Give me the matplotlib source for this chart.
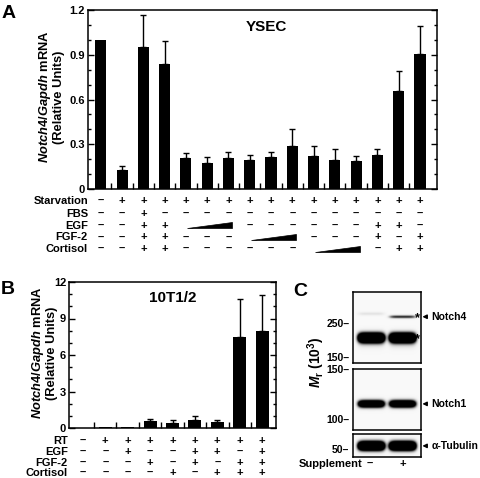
import matplotlib
matplotlib.use('Agg')
import matplotlib.pyplot as plt
import matplotlib.transforms as mtransforms
from matplotlib.patches import Polygon
from matplotlib.ticker import MultipleLocator, FixedLocator, FuncFormatter
import numpy as np

plt.rcParams.update({
    'font.family': ['Liberation Sans', 'DejaVu Sans'],
    'font.weight': 'bold',
    'mathtext.fontset': 'custom',
    'mathtext.rm': 'Liberation Sans:bold',
    'mathtext.it': 'Liberation Sans:italic:bold',
    'mathtext.bf': 'Liberation Sans:bold',
    'axes.linewidth': 1.1,
})

W, H = 480, 478

# ── data: panel A (YSEC) ──────────────────────────────────────────────────────
a_vals = [1.00, 0.13, 0.955, 0.84, 0.205, 0.175, 0.21, 0.195,
          0.215, 0.29, 0.22, 0.195, 0.19, 0.23, 0.655, 0.905]
a_err = [0.0, 0.025, 0.21, 0.15, 0.035, 0.04, 0.035, 0.033,
         0.031, 0.115, 0.065, 0.073, 0.028, 0.037, 0.137, 0.19]
a_rows = ['Starvation', 'FBS', 'EGF', 'FGF-2', 'Cortisol']
a_table = ['-+++++++++++++++',
           '--+-------------',
           '--++rrr------++-',
           '--++---rrr---+-+',
           '--++------rrr-++']

# ── data: panel B (10T1/2) ────────────────────────────────────────────────────
b_vals = [0.02, 0.12, 0.05, 0.55, 0.38, 0.68, 0.46, 7.46, 8.0]
b_err = [0.0, 0.0, 0.0, 0.2, 0.3, 0.28, 0.22, 3.15, 2.9]
b_rows = ['RT', 'EGF', 'FGF-2', 'Cortisol']
b_table = ['-++++++++',
           '--+--++-+',
           '---+-+-++',
           '----+-+++']

# ── data: panel C (western blots) — (lane, kDa, amplitude, log-width) ────────
c_lanes = ['–', '+']
notch4_bands = [(0, 200, 3.0, 0.022), (1, 200, 3.0, 0.022),
                (0, 288, 0.15, 0.008), (1, 275, 0.85, 0.007),
                (0, 178, 0.08, 0.02), (1, 178, 0.1, 0.02)]
notch1_bands = [(0, 113, 2.2, 0.009), (1, 113, 2.2, 0.009)]
tubulin_bands = [(0, 51.3, 3.0, 0.011), (1, 51.3, 3.0, 0.011)]


def px_rect(l, t, r, b):
    return [l / W, 1 - b / H, (r - l) / W, (b - t) / H]


def fy(py):
    return 1 - py / H


fig = plt.figure(figsize=(4.8, 4.78), dpi=100)
fig.patch.set_facecolor('white')


def bar_panel(ax, vals, errs, ymax, major, minor, width, xpad):
    x = np.arange(len(vals))
    ax.bar(x, vals, width=width, color='black', zorder=2)
    idx = [i for i, e in enumerate(errs) if e > 0]
    ax.errorbar(x[idx], np.array(vals)[idx],
                yerr=[np.zeros(len(idx)), np.array(errs)[idx]],
                fmt='none', ecolor='black', elinewidth=1.0, capsize=2.2,
                capthick=1.0, zorder=3)
    ax.set_xlim(-xpad[0], len(vals) - 1 + xpad[1])
    ax.set_ylim(0, ymax)
    ax.yaxis.set_major_locator(MultipleLocator(major))
    ax.yaxis.set_minor_locator(MultipleLocator(minor))
    ax.yaxis.set_major_formatter(FuncFormatter(
        lambda v, p: '0' if abs(v) < 1e-9 else (f'{v:.1f}' if major < 1 else f'{v:.0f}')))
    ax.xaxis.set_major_locator(FixedLocator(x[:-1] + 0.5))
    ax.tick_params(axis='y', which='both', direction='in', left=True, right=True,
                   labelsize=8, pad=2)
    ax.tick_params(axis='y', which='major', length=4.5, width=1)
    ax.tick_params(axis='y', which='minor', length=2.5, width=1)
    ax.tick_params(axis='x', direction='in', length=4, width=1, labelbottom=False)
    return x


def draw_table(ax, rows, table, row_py, label_px):
    blend = mtransforms.blended_transform_factory(ax.transData, fig.transFigure)
    for name, spec, py in zip(rows, table, row_py):
        fig.text(label_px / W, fy(py), name, ha='right', va='center', fontsize=8)
        i = 0
        while i < len(spec):
            c = spec[i]
            if c == 'r':
                j = i
                while j < len(spec) and spec[j] == 'r':
                    j += 1
                x0, x1 = i + 0.05, j - 1 + 0.17
                fig.add_artist(Polygon([(x0, fy(py + 2.6)), (x1, fy(py + 2.6)),
                                        (x1, fy(py - 3.4))], closed=True,
                                       facecolor='black', edgecolor='black',
                                       lw=0.5, transform=blend))
                i = j
                continue
            sym = '+' if c == '+' else '–'
            ax.text(i, fy(py), sym, transform=blend, ha='center', va='center',
                    fontsize=8, clip_on=False)
            i += 1


# ── panel A ──────────────────────────────────────────────────────────────────
axA = fig.add_axes(px_rect(88, 10, 437, 189))
bar_panel(axA, a_vals, a_err, 1.2, 0.3, 0.1, 0.52, (0.6, 0.8))
axA.text(0.51, 0.905, 'YSEC', transform=axA.transAxes, ha='center', va='center',
         fontsize=11)
draw_table(axA, a_rows, a_table, [201.3, 213.6, 225.6, 237.4, 249.3], 88)
fig.text(51 / W, fy(97), '$Notch4/Gapdh$ mRNA\n(Relative Units)', rotation=90,
         ha='center', va='center', fontsize=9.3, linespacing=1.05)
fig.text(8.5 / W, fy(14), 'A', ha='center', va='center', fontsize=14)

# ── panel B ──────────────────────────────────────────────────────────────────
axB = fig.add_axes(px_rect(69, 282, 276, 428))
bar_panel(axB, b_vals, b_err, 12, 3, 1, 0.58, (0.62, 0.62))
axB.text(0.50, 0.89, '10T1/2', transform=axB.transAxes, ha='center', va='center',
         fontsize=11)
draw_table(axB, b_rows, b_table, [440.7, 451.7, 462.7, 473.3], 68)
fig.text(44 / W, fy(353), '$Notch4/Gapdh$ mRNA\n(Relative Units)', rotation=90,
         ha='center', va='center', fontsize=9.3, linespacing=1.05)
fig.text(8 / W, fy(290), 'B', ha='center', va='center', fontsize=14)

# ── panel C ──────────────────────────────────────────────────────────────────
lane_x = [0.53, 1.44]


def blot(rect, bands, ylo, yhi, ticks):
    ax = fig.add_axes(px_rect(*rect))
    xs = np.linspace(0, 2, 200)
    ys = np.linspace(ylo, yhi, 200)
    X, Y = np.meshgrid(xs, ys)
    img = np.full_like(X, 0.05)
    for lane, kda, amp, sig in bands:
        img += (amp * np.exp(-(np.abs(X - lane_x[lane]) / 0.39) ** 6)
                * np.exp(-0.5 * ((Y - np.log10(kda)) / sig) ** 2))
    ax.imshow(np.clip(img, 0, 1), extent=[0, 2, ylo, yhi], origin='lower',
              cmap='Greys', vmin=0, vmax=1, aspect='auto', interpolation='bilinear')
    ax.set_xlim(0, 2)
    ax.set_ylim(ylo, yhi)
    ax.set_xticks([])
    ax.set_yticks([np.log10(t) for t in ticks])
    ax.set_yticklabels([f'{t}–' for t in ticks])
    ax.tick_params(axis='y', length=0, pad=2.5, labelsize=7.5)
    return ax


def tag(ax, kda, label):
    ax.annotate(label, xy=(1.02, np.log10(kda)), xytext=(1.15, np.log10(kda)),
                xycoords=('axes fraction', 'data'), textcoords=('axes fraction', 'data'),
                ha='left', va='center', fontsize=7.5,
                arrowprops=dict(arrowstyle='-|>', color='black', lw=1.0,
                                mutation_scale=6, shrinkA=1, shrinkB=0))


ax1 = blot((353, 292, 421, 363), notch4_bands, 2.137, 2.601, [250, 150])
ax2 = blot((353, 369, 421, 430), notch1_bands, 1.961, 2.176, [150, 100])
ax3 = blot((353, 434, 421, 457), tubulin_bands, 1.671, 1.752, [50])
tag(ax1, 275, 'Notch4')
tag(ax2, 113, 'Notch1')
tag(ax3, 51.3, 'α-Tubulin')
ax1.text(1.88, np.log10(270), '*', ha='center', va='center', fontsize=9)
ax1.text(1.88, np.log10(195), '*', ha='center', va='center', fontsize=9)

fig.text(362 / W, fy(464), 'Supplement', ha='right', va='center', fontsize=8)
for lx, s in zip([370, 403], c_lanes):
    fig.text(lx / W, fy(464), s, ha='center', va='center', fontsize=8)
fig.text(316 / W, fy(362), '$M_\\mathrm{r}$ (10$^3$)', rotation=90,
         ha='center', va='center', fontsize=10)
fig.text(300 / W, fy(291), 'C', ha='center', va='center', fontsize=14)

fig.savefig('out.png', dpi=100, facecolor='white')
plt.close(fig)
